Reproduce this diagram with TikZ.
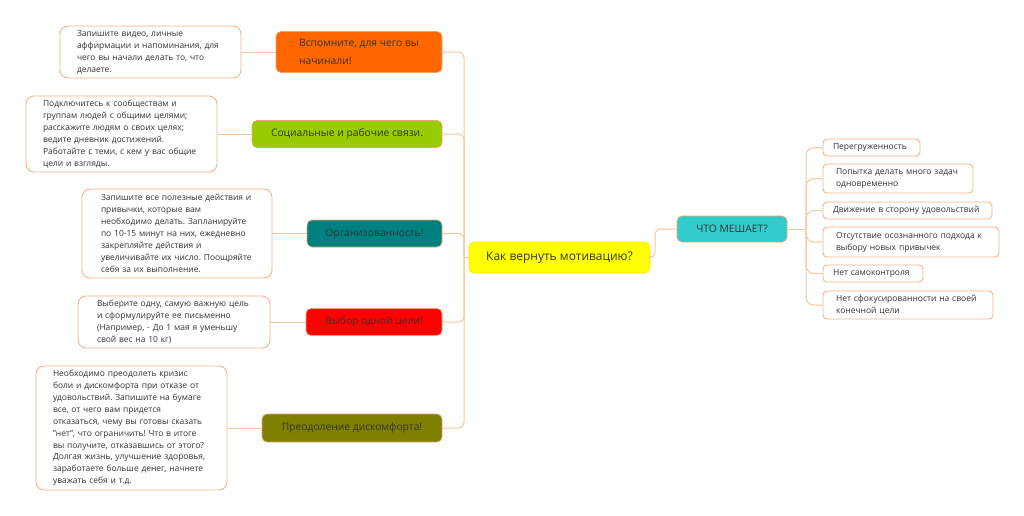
\documentclass[tikz,border=0pt]{standalone}
\usepackage{fontspec}
\setmainfont{Open Sans}
\definecolor{lineC}{HTML}{F5C7A0}
\definecolor{detB}{HTML}{F2B488}
\definecolor{mainB}{HTML}{E8A868}
\definecolor{txt}{HTML}{333333}
\definecolor{cOrange}{HTML}{FF6600}
\definecolor{cGreen}{HTML}{99CC00}
\definecolor{cTeal}{HTML}{008080}
\definecolor{cRed}{HTML}{FF0000}
\definecolor{cOlive}{HTML}{808000}
\definecolor{cYellow}{HTML}{FFFF00}
\definecolor{cCyan}{HTML}{33CCCC}
\frenchspacing
\begin{document}
\begin{tikzpicture}[x=1pt,y=-1pt,
 conn/.style={draw=lineC, line width=1pt},
 det/.style={draw=detB, line width=0.9pt, fill=white, rounded corners=8pt, align=left, inner xsep=17pt, inner ysep=0pt, font=\fontsize{8.45}{11.9}\selectfont, text=txt},
 mainn/.style={rounded corners=5pt, draw=mainB, line width=0.6pt, inner sep=0pt, font=\fontsize{10.3}{14}\selectfont, text=txt},
 leaf/.style={draw=detB, line width=0.9pt, fill=white, rounded corners=4pt, align=left, inner xsep=10pt, inner ysep=0pt, font=\fontsize{8.5}{12}\selectfont, text=txt},
]
\useasboundingbox[fill=white] (0,0) rectangle (1024,515);

% detail boxes
\node[det, text width=147pt, minimum height=52pt] (D1) at (150.5,52) {Запишите видео, личные\\аффирмации и напоминания, для\\чего вы начали делать то, что\\делаете.};
\node[det, text width=157pt, minimum height=76pt] (D2) at (121.5,134) {Подключитесь к сообществам и\\группам людей с общими целями;\\расскажите людям о своих целях;\\ведите дневник достижений.\\Работайте с теми, с кем у вас общие\\цели и взгляды.};
\node[det, inner xsep=19pt, text width=152pt, minimum height=89pt] (D3) at (177,233.5) {Запишите все полезные действия и\\привычки, которые вам\\необходимо делать. Запланируйте\\по 10-15 минут на них, ежедневно\\закрепляйте действия и\\увеличивайте их число. Поощряйте\\себя за их выполнение.};
\node[det, inner xsep=19pt, text width=154pt, minimum height=52pt] (D4) at (174,322) {Выберите одну, самую важную цель\\и сформулируйте ее письменно\\(Например, - До 1 мая я уменьшу\\свой вес на 10 кг)};
\node[det, text width=157pt, minimum height=124pt] (D5) at (131.5,428) {Необходимо преодолеть кризис\\боли и дискомфорта при отказе от\\удовольствий. Запишите на бумаге\\все, от чего вам придется\\отказаться, чему вы готовы сказать\\"нет", что ограничить! Что в итоге\\вы получите, отказавшись от этого?\\Долгая жизнь, улучшение здоровья,\\заработаете больше денег, начнете\\уважать себя и т.д.};

% main nodes
\node[mainn, fill=cOrange, minimum width=166pt, minimum height=41pt, align=left, font=\fontsize{10.3}{18}\selectfont] (M1) at (359,52) {Вспомните, для чего вы\\начинали!};
\node[mainn, fill=cGreen, minimum width=190pt, minimum height=27pt] (M2) at (347,134) {Социальные и рабочие связи.};
\node[mainn, fill=cTeal, minimum width=135pt, minimum height=27pt] (M3) at (374.5,233.5) {Организованность!};
\node[mainn, fill=cRed, minimum width=136pt, minimum height=27pt] (M4) at (374,322) {Выбор одной цели!};
\node[mainn, fill=cOlive, minimum width=180pt, minimum height=28pt] (M5) at (352,428) {Преодоление дискомфорта!};
\node[mainn, fill=cYellow, draw=cYellow!80!orange, minimum width=181pt, minimum height=31pt, font=\fontsize{12}{14}\selectfont] (C) at (559.5,257.5) {Как вернуть мотивацию?};
\node[mainn, fill=cCyan, minimum width=110pt, minimum height=26pt] (W) at (732,229) {ЧТО МЕШАЕТ?};

% right leaves
\node[leaf, text width=77pt, minimum height=17pt] (R1) at (871.5,147.5) {Перегруженность};
\node[leaf, inner xsep=13pt, text width=124pt, minimum height=29pt] (R2) at (898,178.5) {Попытка делать много задач\\одновременно};
\node[leaf, text width=149pt, minimum height=17pt] (R3) at (907.5,210.5) {Движение в сторону удовольствий};
\node[leaf, inner xsep=13pt, text width=150pt, minimum height=30pt] (R4) at (911,242) {Отсутствие осознанного подхода к\\выбору новых привычек};
\node[leaf, text width=80pt, minimum height=17pt] (R5) at (873,273.5) {Нет самоконтроля};
\node[leaf, inner xsep=13pt, text width=144pt, minimum height=28pt] (R6) at (908,305) {Нет сфокусированности на своей\\конечной цели};

% connectors
\coordinate (ls) at (464,257.5);
\foreach \m in {M1,M2,M3,M4,M5}{
  \draw[conn, rounded corners=6pt] (\m.east) -| (ls);
}
\draw[conn] (ls) -- (C.west);
\draw[conn] (D1.east) -- (M1.west);
\draw[conn] (D2.east) -- (M2.west);
\draw[conn] (D3.east) -- (M3.west);
\draw[conn] (D4.east) -- (M4.west);
\draw[conn] (D5.east) -- (M5.west);

\coordinate (cr) at (655,257.5);
\draw[conn, rounded corners=5pt] (C.east) -- (cr) |- (W.west);
\coordinate (rs) at (806,229);
\draw[conn] (W.east) -- (rs);
\foreach \r in {R1,R2,R3,R4,R5,R6}{
  \draw[conn, rounded corners=8pt] (rs) |- (\r.west);
}
\end{tikzpicture}
\end{document}
